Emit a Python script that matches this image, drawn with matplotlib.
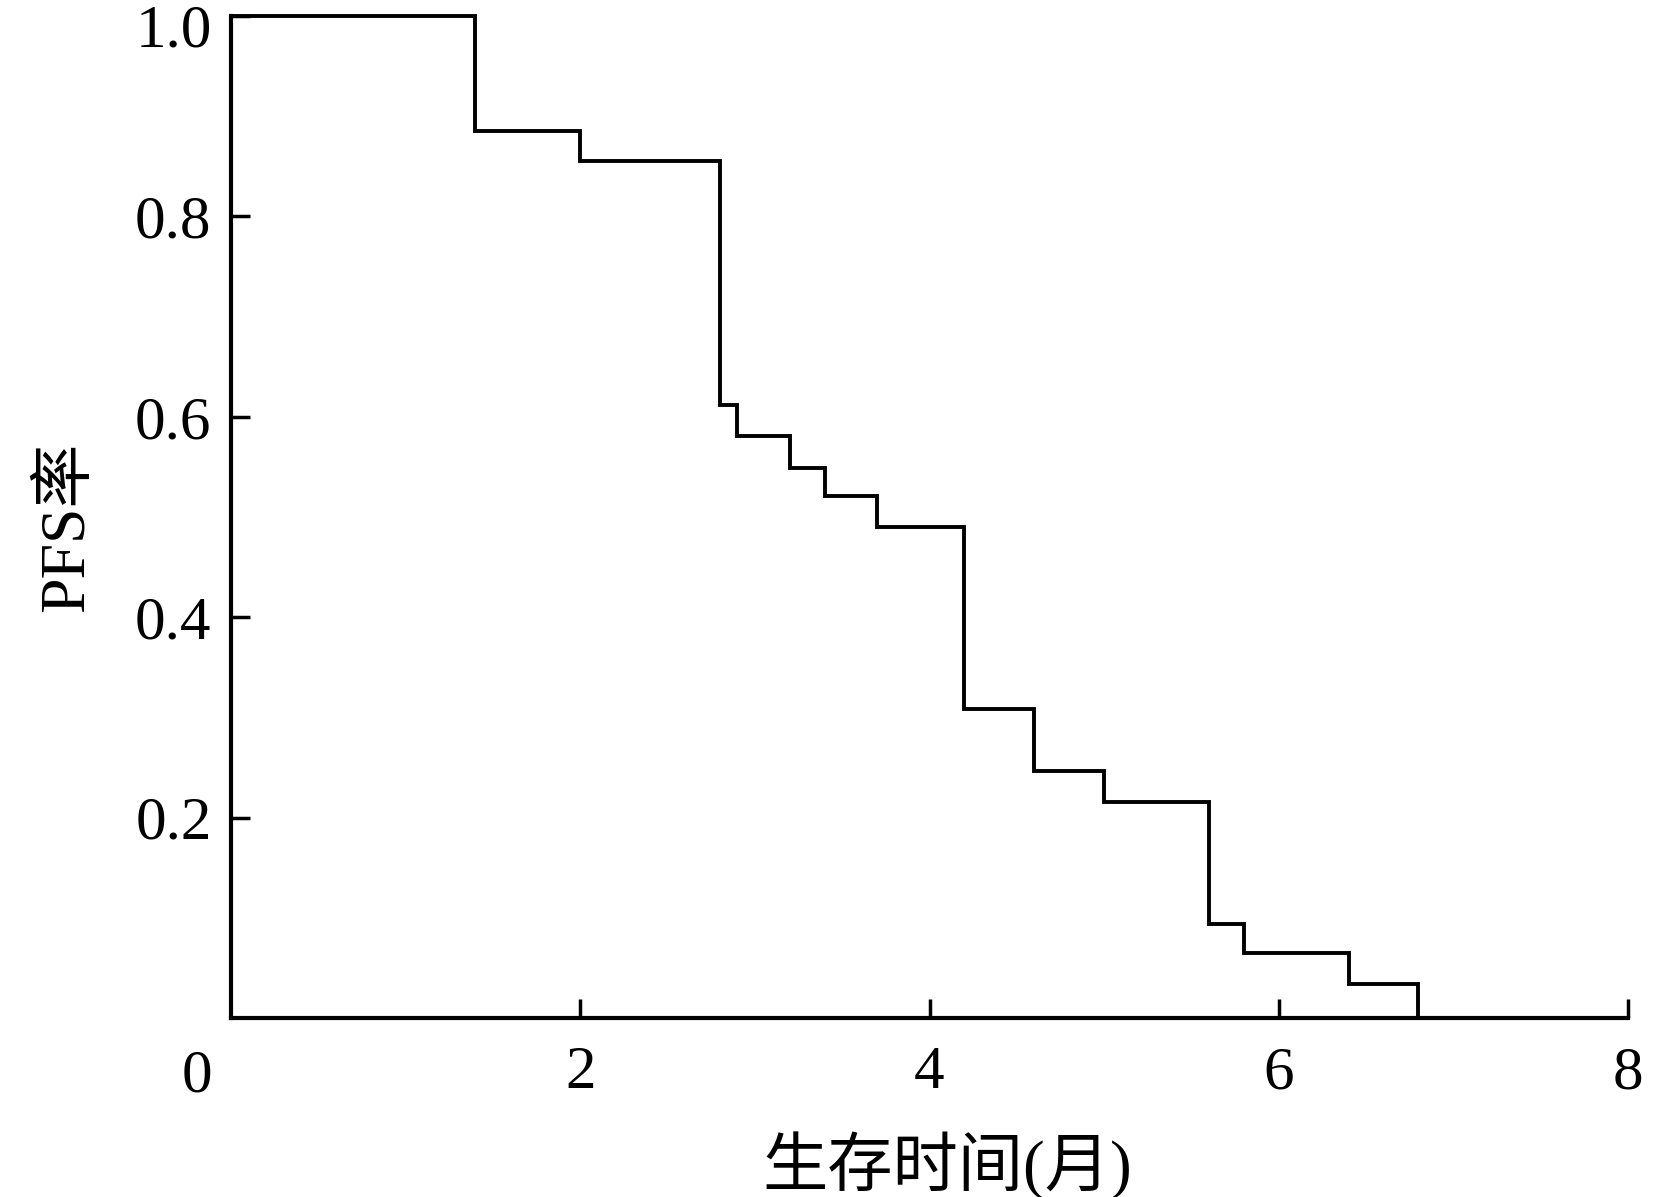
import matplotlib
matplotlib.use("Agg")
import matplotlib.pyplot as plt
import numpy as np

# Kaplan-Meier PFS curve
event_times = [0.0, 1.4, 2.0, 2.8, 2.9, 3.2, 3.4, 3.7, 4.2, 4.6, 5.0, 5.6, 5.8, 6.4, 6.8]
pfs_values = [1.0, 0.885, 0.855, 0.612, 0.581, 0.549, 0.521, 0.490, 0.308, 0.247, 0.216, 0.094, 0.065, 0.034, 0.0]
x_ticks = [2, 4, 6, 8]
y_ticks = [0.2, 0.4, 0.6, 0.8, 1.0]
y_tick_labels = ["0.2", "0.4", "0.6", "0.8", "1.0"]
x_label = "生存时间(月)"
y_label = "PFS率"

plt.rcParams['font.family'] = ['Liberation Serif', 'Noto Sans CJK SC']

fig = plt.figure(figsize=(16.54, 11.97), dpi=100)
ax = fig.add_axes([231/1654, 1 - 1018/1197, (1628 - 231)/1654, (1018 - 16)/1197])

ax.step(event_times, pfs_values, where='post', color='black', lw=2.8,
        solid_joinstyle='miter', clip_on=False)

ax.set_xlim(0, 8)
ax.set_ylim(0, 1.0)
ax.spines['top'].set_visible(False)
ax.spines['right'].set_visible(False)
for s in ('left', 'bottom'):
    ax.spines[s].set_linewidth(3.0)

ax.set_xticks(x_ticks)
ax.set_xticklabels([str(v) for v in x_ticks])
ax.set_yticks(y_ticks)
# top label is drawn separately, nudged down so it stays inside the figure
ax.set_yticklabels(y_tick_labels[:-1] + [""])
ax.tick_params(axis='both', direction='in', length=14, width=2.5,
               labelsize=44, colors='black')
ax.tick_params(axis='x', pad=20)
ax.tick_params(axis='y', pad=14)

ax.annotate(y_tick_labels[-1], xy=(0, y_ticks[-1]), xycoords='data', xytext=(-14, -7),
            textcoords='offset points', ha='right', va='center_baseline', fontsize=44)
ax.annotate("0", xy=(0, 0), xycoords='data', xytext=(-24.5, -42),
            textcoords='offset points', ha='center', va='center', fontsize=44)

ax.set_xlabel(x_label, fontsize=47)
ax.xaxis.set_label_coords(0.5125, -0.113)
ax.xaxis.label.set_va('top')
ax.set_ylabel(y_label, fontsize=46)
ax.yaxis.set_label_coords(-0.096, 0.49)

fig.savefig("out.png", dpi=100, facecolor='white')
